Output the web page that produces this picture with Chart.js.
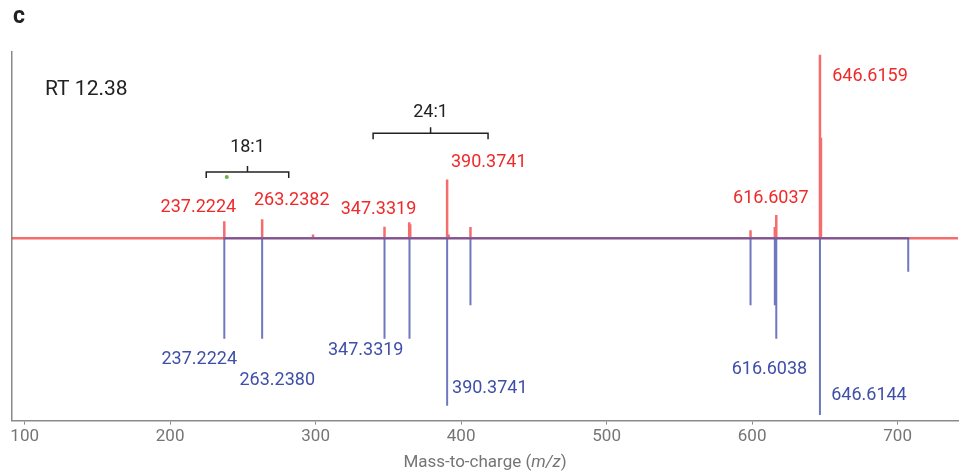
<!DOCTYPE html>
<html>
<head>
<meta charset="utf-8">
<script src="https://cdn.jsdelivr.net/npm/chart.js@4.4.0/dist/chart.umd.min.js"></script>
<style>
    html, body { margin: 0; padding: 0; background: #fff; }
    #wrap { width: 964px; height: 476px; }
</style>
</head>
<body>
<div id="wrap"><canvas id="spectrum"></canvas></div>
<script>
// Sample spectrum (drawn upwards, red)
const sampleMz = [237.2224, 263.2382, 298.2, 347.3319, 364.3, 365.0, 390.3741, 391.4, 406.4, 598.9, 615.6, 616.6037, 646.6159, 647.3];
const sampleInt = [9.1, 10.2, 2, 6.1, 8.5, 7.5, 31.5, 2, 6, 4.3, 6, 12.4, 98.5, 54];

// Reference spectrum (drawn downwards, blue)
const refMz = [237.2224, 263.2380, 347.3319, 364.5, 390.3741, 406.4, 598.9, 615.6, 616.6038, 646.6144, 707.3];
const refInt = [54, 54, 54, 54, 90, 36, 36, 36, 54, 95, 18];

// annotated peaks
const sampleLabels = ['237.2224', '263.2382', '347.3319', '390.3741', '616.6037', '646.6159'];
const refLabels = ['237.2224', '263.2380', '347.3319', '390.3741', '616.6038', '646.6144'];

// lone marker above the 18:1 group
const markerMz = [238.9];
const markerInt = [32.8];

const xTicks = [100, 200, 300, 400, 500, 600, 700];
const xMin = 91.3, xMax = 741.5;
const yMin = -98, yMax = 100;

// where the peak labels sit (data units, centre of text)
const sampleLabelSpots = [[219.4, 16.5], [283.6, 20.4], [343.2, 15.4], [419.0, 40.5], [612.9, 21.3], [681.0, 86.7]];
const refLabelSpots = [[220.0, -65.2], [273.6, -76.7], [334.4, -60.2], [419.7, -80.6], [611.9, -70.4], [680.3, -84.4]];

// fatty acid group brackets
const groups = [
    { name: '18:1', from: 224.8, to: 281.5, y: 35.6, labelY: 48.6 },
    { name: '24:1', from: 339.5, to: 418.5, y: 56.3, labelY: 67.7 }
];

const RED = '#ee2a2a';
const BLUE = '#3f4fa8';

function sticks(mz, inten, sign, start, end) {
    const pts = [];
    if (start !== undefined) pts.push({ x: start, y: 0 });
    mz.forEach((m, i) => {
        pts.push({ x: m, y: 0 }, { x: m, y: sign * inten[i] }, { x: m, y: 0 });
    });
    if (end !== undefined) pts.push({ x: end, y: 0 });
    return pts;
}

const annotations = {
    id: 'annotations',
    afterDatasetsDraw(chart) {
        const { ctx, scales: { x, y }, chartArea } = chart;
        ctx.save();
        ctx.textAlign = 'center';
        ctx.textBaseline = 'middle';
        ctx.font = '18px Roboto';

        ctx.fillStyle = RED;
        sampleLabels.forEach((t, i) => {
            const p = sampleLabelSpots[i];
            ctx.fillText(t, x.getPixelForValue(p[0]), y.getPixelForValue(p[1]));
        });
        ctx.fillStyle = BLUE;
        refLabels.forEach((t, i) => {
            const p = refLabelSpots[i];
            ctx.fillText(t, x.getPixelForValue(p[0]), y.getPixelForValue(p[1]));
        });

        // brackets
        ctx.strokeStyle = '#222';
        ctx.lineWidth = 1.5;
        ctx.fillStyle = '#222';
        groups.forEach(g => {
            const x0 = x.getPixelForValue(g.from);
            const x1 = x.getPixelForValue(g.to);
            const yy = y.getPixelForValue(g.y);
            const xc = (x0 + x1) / 2;
            ctx.beginPath();
            ctx.moveTo(x0, yy + 6);
            ctx.lineTo(x0, yy);
            ctx.lineTo(x1, yy);
            ctx.lineTo(x1, yy + 6);
            ctx.moveTo(xc, yy);
            ctx.lineTo(xc, yy - 6);
            ctx.stroke();
            ctx.fillText(g.name, xc, y.getPixelForValue(g.labelY));
        });

        // retention time
        ctx.textAlign = 'left';
        ctx.font = '21px Roboto';
        ctx.fillStyle = '#222';
        ctx.fillText('RT 12.38', chartArea.left + 33, chartArea.top + 38);

        // panel letter
        ctx.font = 'bold 23px Roboto';
        ctx.fillText('c', 13, 17);

        // axis title with italic m/z
        ctx.font = '17px Roboto';
        ctx.fillStyle = '#757575';
        const a = 'Mass-to-charge (', b = 'm/z', c = ')';
        const wa = ctx.measureText(a).width, wc = ctx.measureText(c).width;
        ctx.font = 'italic 17px Roboto';
        const wb = ctx.measureText(b).width;
        let sx = (chartArea.left + chartArea.right) / 2 - (wa + wb + wc) / 2;
        const ty = 463;
        ctx.font = '17px Roboto';
        ctx.fillText(a, sx, ty);
        ctx.font = 'italic 17px Roboto';
        ctx.fillText(b, sx + wa, ty);
        ctx.font = '17px Roboto';
        ctx.fillText(c, sx + wa + wb, ty);
        ctx.restore();
    }
};

document.addEventListener('DOMContentLoaded', function() {
    const ctx = document.getElementById('spectrum').getContext('2d');
    new Chart(ctx, {
        type: 'line',
        data: {
            datasets: [{
                label: 'Sample',
                data: sticks(sampleMz, sampleInt, 1, xMin, xMax),
                borderColor: 'rgba(240, 45, 45, 0.7)',
                borderWidth: 2.5,
                pointRadius: 0,
                tension: 0,
                order: 2
            }, {
                label: 'Reference',
                data: sticks(refMz, refInt, -1),
                borderColor: 'rgba(75, 85, 175, 0.8)',
                borderWidth: 2,
                pointRadius: 0,
                tension: 0,
                order: 1
            }, {
                label: 'Marker',
                type: 'scatter',
                data: markerMz.map((m, i) => ({ x: m, y: markerInt[i] })),
                backgroundColor: '#6ab04c',
                borderWidth: 0,
                pointRadius: 2,
                order: 0
            }]
        },
        options: {
            responsive: true,
            maintainAspectRatio: false,
            animation: false,
            parsing: false,
            layout: {
                padding: { left: 12, top: 52, right: 6, bottom: 27 }
            },
            plugins: {
                legend: { display: false },
                tooltip: { enabled: false }
            },
            scales: {
                x: {
                    type: 'linear',
                    min: xMin,
                    max: xMax,
                    afterBuildTicks: scale => {
                        scale.ticks = xTicks.map(v => ({ value: v }));
                    },
                    grid: {
                        drawOnChartArea: false,
                        drawTicks: true,
                        tickLength: 4,
                        color: '#8a8a8a'
                    },
                    border: { color: '#8a8a8a', width: 1.5 },
                    ticks: {
                        padding: 2,
                        color: '#757575',
                        font: { family: 'Roboto', size: 17 },
                        maxRotation: 0
                    }
                },
                y: {
                    min: yMin,
                    max: yMax,
                    grid: { display: false, drawTicks: false },
                    border: { color: '#8a8a8a', width: 1.5 },
                    ticks: { display: false }
                }
            }
        },
        plugins: [annotations]
    });
});
</script>
</body>
</html>
